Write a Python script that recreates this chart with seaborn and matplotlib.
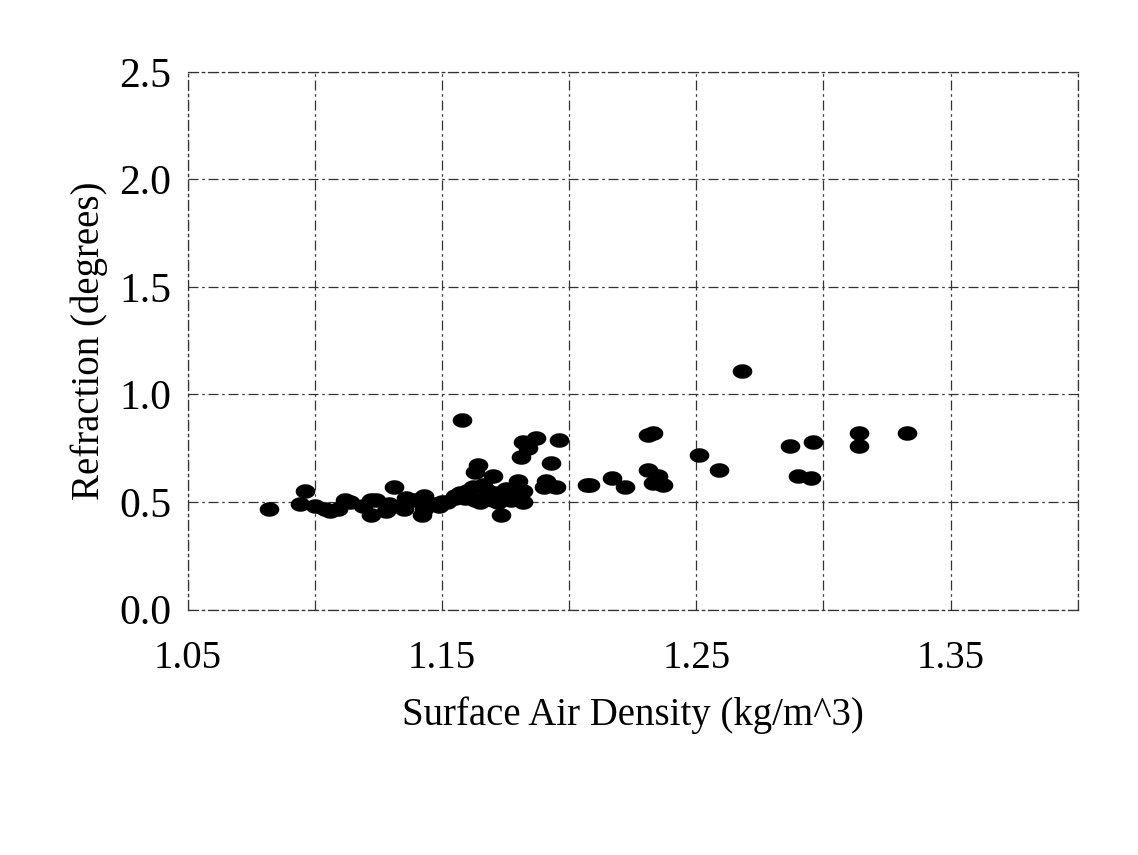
import numpy as np
import pandas as pd
import matplotlib
matplotlib.use("Agg")
import matplotlib.pyplot as plt
from matplotlib.path import Path
from matplotlib.ticker import FixedLocator, FormatStrFormatter
import seaborn as sns

# Surface air density (kg/m^3)
density = [1.082, 1.096, 1.094, 1.100, 1.106, 1.109, 1.112, 1.119, 1.122, 1.122,
           1.131, 1.129, 1.135, 1.139, 1.143, 1.147, 1.142, 1.150, 1.155, 1.159,
           1.158, 1.187, 1.196, 1.182, 1.184, 1.181, 1.193, 1.164, 1.163, 1.170,
           1.180, 1.191, 1.190, 1.195, 1.207, 1.162, 1.168, 1.175, 1.182, 1.163,
           1.170, 1.177, 1.182, 1.173, 1.152, 1.165, 1.172, 1.217, 1.222, 1.208,
           1.233, 1.231, 1.231, 1.235, 1.233, 1.237, 1.268, 1.251, 1.259, 1.287,
           1.296, 1.290, 1.295, 1.314, 1.314, 1.333, 1.124, 1.136, 1.143, 1.155,
           1.128, 1.135, 1.149, 1.160, 1.166, 1.172, 1.178, 1.167, 1.157, 1.114,
           1.104]
# Refraction (degrees)
refraction = [0.47, 0.55, 0.49, 0.48, 0.46, 0.47, 0.51, 0.48, 0.51, 0.44,
              0.57, 0.49, 0.49, 0.51, 0.47, 0.49, 0.44, 0.50, 0.52, 0.52,
              0.88, 0.80, 0.79, 0.78, 0.75, 0.71, 0.68, 0.67, 0.64, 0.62,
              0.60, 0.60, 0.57, 0.57, 0.58, 0.57, 0.55, 0.56, 0.55, 0.51,
              0.51, 0.51, 0.50, 0.44, 0.50, 0.50, 0.50, 0.61, 0.57, 0.58,
              0.82, 0.81, 0.65, 0.62, 0.59, 0.58, 1.11, 0.72, 0.65, 0.76,
              0.78, 0.62, 0.61, 0.82, 0.76, 0.82, 0.51, 0.52, 0.53, 0.53,
              0.46, 0.47, 0.48, 0.55, 0.58, 0.54, 0.53, 0.52, 0.54, 0.50,
              0.47]

x_major = [1.05, 1.15, 1.25, 1.35]
x_minor = [1.10, 1.20, 1.30, 1.40]
y_ticks = [0.0, 0.5, 1.0, 1.5, 2.0, 2.5]

df = pd.DataFrame({"density": density, "refraction": refraction})

sns.set_theme(style="white")
plt.rcParams["font.family"] = ["Liberation Serif", "DejaVu Serif"]
plt.rcParams["text.color"] = "black"
plt.rcParams["axes.labelcolor"] = "black"

fig = plt.figure(figsize=(11.38, 8.55), dpi=100)
ax = fig.add_axes([0.165, 0.287, 0.782, 0.629])

t = np.linspace(0, 2 * np.pi, 40)
ellipse = Path(np.column_stack([1.35 * np.cos(t), np.sin(t)]), closed=True)

sns.scatterplot(data=df, x="density", y="refraction", ax=ax, color="black",
                marker=ellipse, s=200, edgecolor="black", linewidth=0, zorder=3)

ax.set_xlim(1.05, 1.40)
ax.set_ylim(0.0, 2.5)
ax.xaxis.set_major_locator(FixedLocator(x_major))
ax.xaxis.set_minor_locator(FixedLocator(x_minor))
ax.yaxis.set_major_locator(FixedLocator(y_ticks))
ax.xaxis.set_major_formatter(FormatStrFormatter("%.2f"))
ax.yaxis.set_major_formatter(FormatStrFormatter("%.1f"))

gstyle = dict(color="#333333", linewidth=0.9, linestyle=(0, (8, 3, 2, 3)))
ax.grid(True, which="both", **gstyle)
for sp in ax.spines.values():
    sp.set_color("#333333")
    sp.set_linewidth(0.9)
    sp.set_linestyle((0, (8, 3, 2, 3)))

ax.tick_params(axis="both", which="both", length=0, colors="black")
ax.tick_params(axis="x", labelsize=28, pad=22)
ax.tick_params(axis="y", labelsize=30, pad=12)

ax.set_xlabel("Surface Air Density (kg/m^3)", fontsize=28, labelpad=14, color="black")
ax.set_ylabel("Refraction (degrees)", fontsize=28, labelpad=8, color="black")

fig.savefig("out.png", dpi=100, facecolor="white")
